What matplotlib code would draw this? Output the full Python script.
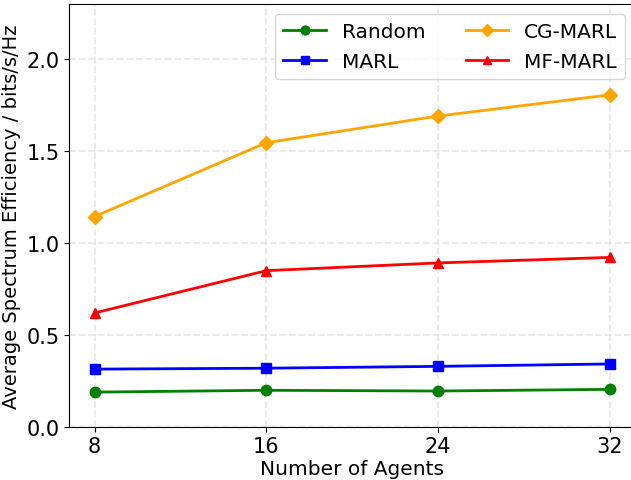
import matplotlib
matplotlib.use("Agg")
import matplotlib.pyplot as plt

agents = [8, 16, 24, 32]
random_vals = [0.19, 0.20, 0.196, 0.205]
marl_vals = [0.315, 0.32, 0.33, 0.343]
cg_marl_vals = [1.144, 1.545, 1.69, 1.805]
mf_marl_vals = [0.62, 0.85, 0.892, 0.922]

fig, ax = plt.subplots(figsize=(6.31, 4.81), dpi=100)
ax.plot(agents, random_vals, color='green', marker='o', lw=2, ms=7.5, label='Random')
ax.plot(agents, marl_vals, color='blue', marker='s', lw=2, ms=7.5, label='MARL')
ax.plot(agents, cg_marl_vals, color='orange', marker='D', lw=2, ms=7.5, label='CG-MARL')
ax.plot(agents, mf_marl_vals, color='red', marker='^', lw=2, ms=7.5, label='MF-MARL')

ax.set_xticks(agents)
ax.set_xlim(6.8, 33.2)
ax.set_ylim(0, 2.3)
ax.set_xlabel('Number of Agents', fontsize=14.5, labelpad=2)
ax.set_ylabel('Average Spectrum Efficiency / bits/s/Hz', fontsize=14, labelpad=4)
ax.tick_params(labelsize=15, pad=3)
ax.grid(True, linestyle='--', linewidth=1.3, alpha=0.5, color='lightgray')
ax.legend(ncol=2, fontsize=14.5, loc='upper right', markerscale=0.85,
          columnspacing=2.0, handlelength=2.1, handletextpad=0.8, labelspacing=0.55)
fig.subplots_adjust(left=0.109, right=1.007, top=0.99, bottom=0.11)
fig.savefig('out.png', dpi=100)
